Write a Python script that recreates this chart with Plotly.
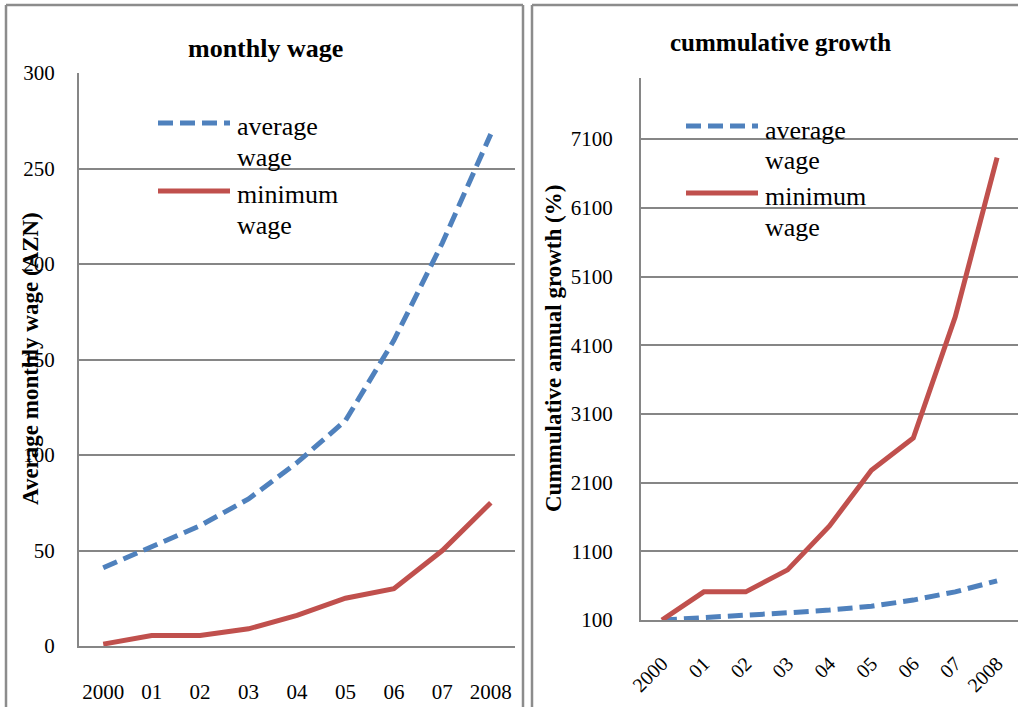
import plotly.graph_objs as go

W, H = 1018, 707

years = ["2000", "01", "02", "03", "04", "05", "06", "07", "2008"]
series_names = ["average wage", "minimum wage"]

# monthly wage, AZN
avg_wage = [41, 52, 63, 77, 96, 118, 160, 211, 268]
min_wage = [1, 5.5, 5.5, 9, 16, 25, 30, 50, 75]

# cumulative growth, %
avg_growth = [100, 130, 170, 205, 245, 300, 390, 510, 670]
min_growth = [100, 510, 510, 830, 1470, 2280, 2750, 4510, 6830]

left_ticks = [0, 50, 100, 150, 200, 250, 300]
right_ticks = [100, 1100, 2100, 3100, 4100, 5100, 6100, 7100]

blue = "#4F81BD"
red = "#C0504D"
grey = "#868686"
serif = "Liberation Serif"
dash = "15px,7px"


def px(x):
    return x / W


def py(y):
    return 1 - y / H


fig = go.Figure()

fig.add_trace(go.Scatter(x=years, y=avg_wage, mode="lines", xaxis="x", yaxis="y",
                         line=dict(color=blue, width=5, dash=dash)))
fig.add_trace(go.Scatter(x=years, y=min_wage, mode="lines", xaxis="x", yaxis="y",
                         line=dict(color=red, width=5)))
fig.add_trace(go.Scatter(x=years, y=avg_growth, mode="lines", xaxis="x2", yaxis="y2",
                         line=dict(color=blue, width=5, dash=dash)))
fig.add_trace(go.Scatter(x=years, y=min_growth, mode="lines", xaxis="x2", yaxis="y2",
                         line=dict(color=red, width=5)))

tickfont = dict(family=serif, size=21, color="black")

fig.update_layout(
    template="none",
    width=W, height=H,
    margin=dict(l=0, r=0, t=0, b=0, pad=0),
    paper_bgcolor="white", plot_bgcolor="white",
    showlegend=False,
    xaxis=dict(domain=[px(79), px(515)], type="category", range=[-0.5, 8.5],
               automargin=False, showgrid=False, showline=True, linecolor=grey, linewidth=2,
               ticks="", tickfont=tickfont, ticklabelstandoff=26, fixedrange=True),
    yaxis=dict(domain=[py(646), py(73)], range=[0, 300], tickvals=left_ticks,
               automargin=False, showgrid=True, gridcolor=grey, gridwidth=1.5, zeroline=False,
               showline=True, linecolor=grey, linewidth=2,
               ticks="", tickfont=tickfont, ticklabelstandoff=18),
    xaxis2=dict(domain=[px(641), 1], type="category", range=[-0.5, 8.5],
                anchor="y2", automargin=False, showgrid=False, showline=True,
                linecolor=grey, linewidth=2,
                ticks="", tickangle=-45, tickfont=dict(family=serif, size=20, color="black"),
                ticklabelstandoff=22),
    yaxis2=dict(domain=[py(620), py(78)], range=[100, 7990], tickvals=right_ticks,
                anchor="x2", automargin=False, showgrid=True, gridcolor=grey, gridwidth=1.5,
                zeroline=False, showline=True, linecolor=grey, linewidth=2,
                ticks="", tickfont=tickfont, ticklabelstandoff=22),
)

ann = []
# panel titles
ann.append(dict(text="<b>monthly wage</b>", x=px(265), y=py(48),
                font=dict(family=serif, size=26, color="black")))
ann.append(dict(text="<b>cummulative growth</b>", x=px(780), y=py(43),
                font=dict(family=serif, size=25, color="black")))
# axis titles
ann.append(dict(text="<b>Average monthly wage (AZN)</b>", x=px(30), y=py(359), textangle=-90,
                font=dict(family=serif, size=23, color="black")))
ann.append(dict(text="<b>Cummulative annual growth (%)</b>", x=px(553), y=py(349), textangle=-90,
                font=dict(family=serif, size=23, color="black")))
for a in ann:
    a.update(xref="paper", yref="paper", xanchor="center", yanchor="middle", showarrow=False)

shapes = []
# hand-drawn legends (line keys longer than plotly's own)
legend_spots = [(158, 123, 191), (686, 126, 193)]
for lx, y_avg, y_min in legend_spots:
    for name, color, dsh, ly in [(series_names[0], blue, dash, y_avg),
                                 (series_names[1], red, "solid", y_min)]:
        shapes.append(dict(type="line", xref="paper", yref="paper",
                           x0=px(lx), x1=px(lx + 72), y0=py(ly), y1=py(ly),
                           line=dict(color=color, width=5, dash=dsh)))
        words = name.split(" ")
        for i, w in enumerate(words):
            ann.append(dict(text=w, x=px(lx + 77), y=py(ly + 4 + 30 * i), xref="paper",
                            yref="paper", xanchor="left", yanchor="middle", showarrow=False,
                            font=dict(family=serif, size=26, color="black")))

# panel frames
frame = dict(color="#8c8c8c", width=2.5)
for x0, y0, x1, y1 in [(6, 5, 523, 5), (6, 5, 6, 710), (523, 5, 523, 710),
                       (532, 5, 1020, 5), (532, 5, 532, 710)]:
    shapes.append(dict(type="line", xref="paper", yref="paper",
                       x0=px(x0), x1=px(x1), y0=py(y0), y1=py(y1), line=frame))

fig.update_layout(annotations=ann, shapes=shapes)

# page has default body margin; drop it so the figure sits at 0,0
fig.write_html("out.html", config={"displayModeBar": False},
               post_script="document.body.style.margin='0';")
